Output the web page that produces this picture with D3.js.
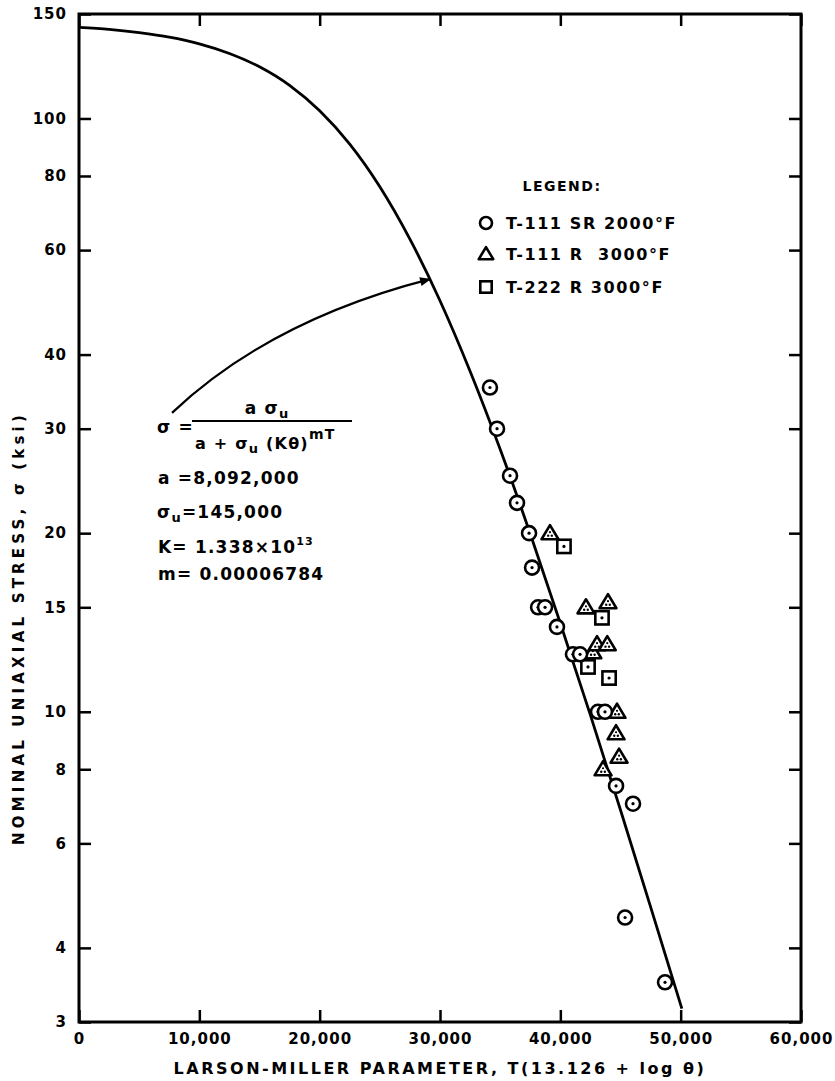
<!DOCTYPE html>
<html>
<head>
<meta charset="utf-8">
<script src="https://cdn.jsdelivr.net/npm/d3@7"></script>
<style>
  body { margin: 0; background: #fff; }
  svg { display: block; }
  text { font-family: "DejaVu Sans", sans-serif; font-weight: bold; fill: #000; }
  .tick text { font-size: 15px; letter-spacing: 1px; }
</style>
</head>
<body>
<div id="chart"></div>
<script>
// Larson-Miller parameter values (x) and nominal stress in ksi (y)

const xTicks = [0, 10000, 20000, 30000, 40000, 50000, 60000];
const yTicks = [3, 4, 6, 8, 10, 15, 20, 30, 40, 60, 80, 100, 150];

// fitted curve
const curveP     = [0, 2500, 5000, 7500, 10000, 12500, 15000, 17500, 20000, 22500, 25000, 27500, 30000, 32500, 35000, 37500, 40000, 42500, 45000, 47500, 50100];
const curveSigma = [142.4, 141.3, 139.5, 137.1, 133.6, 128.7, 122.2, 113.7, 103.0, 90.5, 76.7, 62.6, 49.3, 37.5, 27.7, 19.95, 14.1, 9.87, 6.83, 4.69, 3.16];

// T-111 SR 2000°F
const srP     = [34150, 34740, 35820, 36400, 37400, 37650, 38150, 38730, 39720, 41050, 41640, 43130, 43710, 44630, 46040, 45380, 48700];
const srSigma = [35.2, 30, 25, 22.5, 20, 17.5, 15, 15, 13.9, 12.5, 12.5, 10, 10, 7.5, 7, 4.5, 3.5];

// T-111 R 3000°F
const rP     = [39140, 42130, 43960, 42700, 43050, 43900, 44710, 44630, 44880, 43550];
const rSigma = [20, 15, 15.3, 12.6, 13, 13, 10, 9.2, 8.4, 8];

// T-222 R 3000°F
const t222P     = [40300, 43460, 42300, 44050];
const t222Sigma = [19, 14.4, 11.9, 11.4];

const legendLabels = ["T-111 SR 2000°F", "T-111 R  3000°F", "T-222 R 3000°F"];
const legendShapes = ["circle", "triangle", "square"];

const width = 835, height = 1081;
const margin = { left: 79, top: 14, right: 34, bottom: 59 };

const svg = d3.select("#chart").append("svg")
    .attr("width", width)
    .attr("height", height);

const x = d3.scaleLinear().domain([0, 60000]).range([margin.left, width - margin.right]);
const y = d3.scaleLog().domain([3, 150]).range([height - margin.bottom, margin.top]);

// axes, ticks pointing inward
const fmt = d3.format(",");

svg.append("g")
    .attr("transform", `translate(0,${y(3)})`)
    .call(d3.axisBottom(x).tickValues(xTicks).tickFormat(fmt).tickSizeInner(-12).tickSizeOuter(0).tickPadding(11))
    .call(g => g.select(".domain").remove())
    .call(g => g.selectAll(".tick line").attr("stroke-width", 2.5));

svg.append("g")
    .attr("transform", `translate(0,${y(150)})`)
    .call(d3.axisTop(x).tickValues(xTicks).tickFormat("").tickSizeInner(-12).tickSizeOuter(0))
    .call(g => g.select(".domain").remove())
    .call(g => g.selectAll(".tick line").attr("stroke-width", 2.5));

svg.append("g")
    .attr("transform", `translate(${x(0)},0)`)
    .call(d3.axisLeft(y).tickValues(yTicks).tickFormat(d => d).tickSizeInner(-12).tickSizeOuter(0).tickPadding(12))
    .call(g => g.select(".domain").remove())
    .call(g => g.selectAll(".tick line").attr("stroke-width", 2.5));

svg.append("g")
    .attr("transform", `translate(${x(60000)},0)`)
    .call(d3.axisRight(y).tickValues(yTicks).tickFormat("").tickSizeInner(-12).tickSizeOuter(0))
    .call(g => g.select(".domain").remove())
    .call(g => g.selectAll(".tick line").attr("stroke-width", 2.5));

svg.append("rect")
    .attr("x", x(0)).attr("y", y(150))
    .attr("width", x(60000) - x(0)).attr("height", y(3) - y(150))
    .attr("fill", "none").attr("stroke", "#000").attr("stroke-width", 3);

// axis titles
svg.append("text")
    .attr("x", (x(0) + x(60000)) / 2)
    .attr("y", 1074)
    .attr("text-anchor", "middle")
    .attr("font-size", 16)
    .attr("letter-spacing", 2.5)
    .text("LARSON-MILLER PARAMETER, T(13.126 + log θ)");

svg.append("text")
    .attr("transform", "translate(24,628) rotate(-90)")
    .attr("text-anchor", "middle")
    .attr("font-size", 15)
    .attr("letter-spacing", 4.2)
    .text("NOMINAL UNIAXIAL STRESS, σ (ksi)");

// fitted curve
const line = d3.line()
    .x((d, i) => x(curveP[i]))
    .y(d => y(d))
    .curve(d3.curveMonotoneX);

svg.append("path")
    .datum(curveSigma)
    .attr("d", line)
    .attr("fill", "none")
    .attr("stroke", "#000")
    .attr("stroke-width", 2.8);

// markers
function drawShape(g, shape, size, dotted) {
    if (shape === "circle") {
        g.append("circle").attr("r", size).attr("fill", "#fff").attr("stroke", "#000").attr("stroke-width", 2.6);
        if (dotted) g.append("circle").attr("r", 1.6).attr("fill", "#000");
    } else if (shape === "triangle") {
        const s = size * 1.15;
        g.append("path")
            .attr("d", `M0,${-s} L${s * 1.05},${s * 0.75} L${-s * 1.05},${s * 0.75} Z`)
            .attr("fill", "#fff").attr("stroke", "#000").attr("stroke-width", 2.6).attr("stroke-linejoin", "round");
        if (dotted) {
            g.append("circle").attr("cx", -1.8).attr("cy", 2.5).attr("r", 1.2).attr("fill", "#000");
            g.append("circle").attr("cx", 1.8).attr("cy", 2.5).attr("r", 1.2).attr("fill", "#000");
            g.append("circle").attr("cx", 0).attr("cy", -1).attr("r", 1.1).attr("fill", "#000");
        }
    } else {
        const s = size * 0.95;
        g.append("rect").attr("x", -s).attr("y", -s).attr("width", 2 * s).attr("height", 2 * s)
            .attr("fill", "#fff").attr("stroke", "#000").attr("stroke-width", 2.6);
        if (dotted) g.append("circle").attr("r", 1.6).attr("fill", "#000");
    }
}

function drawSeries(ps, sigmas, shape) {
    ps.forEach((p, i) => {
        const g = svg.append("g").attr("transform", `translate(${x(p)},${y(sigmas[i])})`);
        drawShape(g, shape, 7, true);
    });
}

drawSeries(rP, rSigma, "triangle");
drawSeries(t222P, t222Sigma, "square");
drawSeries(srP, srSigma, "circle");

// legend
svg.append("text")
    .attr("x", 562).attr("y", 191)
    .attr("text-anchor", "middle")
    .attr("font-size", 14)
    .attr("letter-spacing", 1.5)
    .text("LEGEND:");

const legendY = [223, 254, 287];
legendLabels.forEach((label, i) => {
    const g = svg.append("g").attr("transform", `translate(486,${legendY[i]})`);
    drawShape(g, legendShapes[i], 6, false);
    svg.append("text")
        .attr("x", 506).attr("y", legendY[i] + 6)
        .attr("font-size", 16)
        .attr("letter-spacing", 1.6)
        .style("white-space", "pre")
        .text(label);
});

// arrow from the equation to the curve
const arrowFrom = [7730, 31.9], arrowCtrl = [15870, 45.7], arrowTo = [29170, 53.6];

svg.append("defs").append("marker")
    .attr("id", "head")
    .attr("viewBox", "0 0 10 10")
    .attr("refX", 9).attr("refY", 5)
    .attr("markerWidth", 6).attr("markerHeight", 5)
    .attr("markerUnits", "strokeWidth")
    .attr("orient", "auto")
    .append("path").attr("d", "M0,1 L10,5 L0,9 Z").attr("fill", "#000");

svg.append("path")
    .attr("d", `M${x(arrowFrom[0])},${y(arrowFrom[1])} Q${x(arrowCtrl[0])},${y(arrowCtrl[1])} ${x(arrowTo[0])},${y(arrowTo[1])}`)
    .attr("fill", "none")
    .attr("stroke", "#000")
    .attr("stroke-width", 2.2)
    .attr("marker-end", "url(#head)");

// equation block
const eq = svg.append("g").attr("font-size", 17).attr("letter-spacing", 1.2);

eq.append("text").attr("x", 157).attr("y", 433).text("σ =");
eq.append("line").attr("x1", 192).attr("x2", 352).attr("y1", 421).attr("y2", 421)
    .attr("stroke", "#000").attr("stroke-width", 2);

const num = eq.append("text").attr("x", 267).attr("y", 414).attr("text-anchor", "middle");
num.append("tspan").text("a σ");
num.append("tspan").attr("font-size", 13).attr("dy", 4).text("u");

const den = eq.append("text").attr("x", 195).attr("y", 449).attr("font-size", 16);
den.append("tspan").text("a + σ");
den.append("tspan").attr("font-size", 13).attr("dy", 4).text("u");
den.append("tspan").attr("dy", -4).text(" (Kθ)");
den.append("tspan").attr("font-size", 14).attr("dy", -10).text("mT");

eq.append("text").attr("x", 158).attr("y", 484).text("a =8,092,000");

const p2 = eq.append("text").attr("x", 157).attr("y", 518);
p2.append("tspan").text("σ");
p2.append("tspan").attr("font-size", 13).attr("dy", 4).text("u");
p2.append("tspan").attr("dy", -4).text("=145,000");

const p3 = eq.append("text").attr("x", 158).attr("y", 553);
p3.append("tspan").text("K= 1.338×10");
p3.append("tspan").attr("font-size", 11).attr("dy", -8).text("13");

eq.append("text").attr("x", 158).attr("y", 580).text("m= 0.00006784");
</script>
</body>
</html>
